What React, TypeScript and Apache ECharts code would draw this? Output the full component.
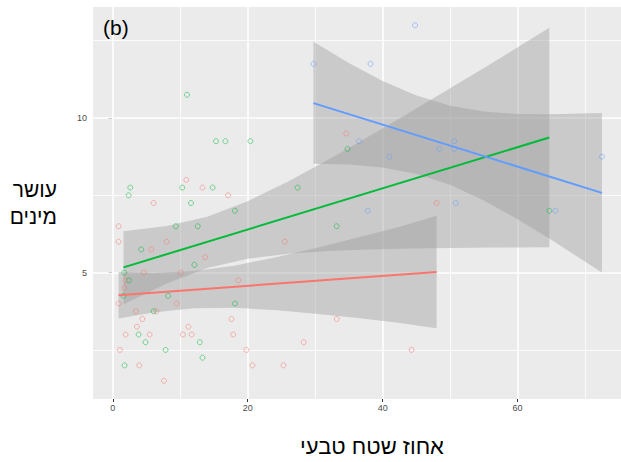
import React, { useEffect, useRef } from "react";
import * as echarts from "echarts";

// Axis breaks
const xTicks = [0, 20, 40, 60];
const yTicks = [5, 10];
const xMinorGrid = [10, 30, 50, 70];
const yMinorGrid = [2.5, 7.5, 12.5];

// Observations: [natural area %, species richness]
const redPoints: [number, number][] = [
  [0.86, 6.5], [0.86, 6.0], [7.98, 6.0], [6.05, 7.25], [10.9, 8.0], [13.3, 7.75],
  [17.1, 7.5], [5.7, 5.75], [13.7, 5.5], [4.6, 5.0], [10.1, 5.0], [1.9, 4.75],
  [18.6, 4.75], [1.7, 4.5], [0.86, 4.0], [9.46, 4.0], [3.43, 3.75], [6.45, 3.75],
  [17.6, 3.5], [4.38, 3.5], [3.58, 3.25], [11.2, 3.25], [1.9, 3.0], [5.46, 3.0],
  [10.4, 3.0], [11.7, 3.0], [17.85, 3.0], [1.06, 2.5], [19.8, 2.5], [3.93, 2.0],
  [20.7, 2.0], [7.58, 1.5], [34.6, 9.5], [48.0, 7.25], [25.5, 6.0], [33.2, 3.5],
  [28.3, 2.75], [44.3, 2.5], [25.3, 2.0],
];
const greenPoints: [number, number][] = [
  [11.0, 10.75], [15.3, 9.25], [16.7, 9.25], [20.4, 9.25], [2.6, 7.75], [10.3, 7.75],
  [14.8, 7.75], [2.35, 7.5], [11.6, 7.25], [18.1, 7.0], [9.36, 6.5], [12.6, 6.5],
  [4.22, 5.75], [12.1, 5.25], [1.7, 5.0], [2.4, 4.75], [1.6, 4.25], [8.2, 4.25],
  [18.1, 4.0], [6.05, 3.75], [3.83, 3.0], [4.86, 2.75], [12.9, 2.75], [7.83, 2.5],
  [1.75, 2.0], [13.3, 2.25], [34.8, 9.0], [27.4, 7.75], [33.2, 6.5], [64.7, 7.0],
];
const bluePoints: [number, number][] = [
  [44.8, 13.0], [29.75, 11.75], [38.2, 11.75], [36.5, 9.25], [41.0, 8.75], [48.4, 9.0],
  [50.6, 9.25], [50.6, 9.0], [72.5, 8.75], [50.85, 7.25], [37.8, 7.0], [65.6, 7.0],
];

// Fitted lines: [x, y]
const redFit: [number, number][] = [[0.86, 4.27], [48.0, 5.02]];
const greenFit: [number, number][] = [[1.6, 5.17], [64.7, 9.37]];
const blueFit: [number, number][] = [[29.75, 10.48], [72.5, 7.58]];

// Confidence bands: [x, lower, upper]
const redBand: [number, number, number][] = [
  [0.86, 3.52, 5.02], [6, 3.71, 4.99], [12, 3.85, 5.05], [18, 3.86, 5.22],
  [24, 3.79, 5.49], [30, 3.67, 5.79], [36, 3.54, 6.12], [42, 3.39, 6.45],
  [48.0, 3.2, 6.84],
];
const greenBand: [number, number, number][] = [
  [1.6, 3.98, 6.34], [8, 4.65, 6.51], [14, 5.15, 6.81], [20, 5.45, 7.31],
  [26, 5.61, 7.95], [32, 5.7, 8.66], [38, 5.75, 9.41], [44, 5.78, 10.18],
  [50, 5.8, 10.96], [56, 5.81, 11.75], [64.7, 5.82, 12.92],
];
const blueBand: [number, number, number][] = [
  [29.75, 8.52, 12.47], [35, 8.5, 11.78], [40, 8.4, 11.2], [45, 8.19, 10.73],
  [50, 7.84, 10.4], [55, 7.33, 10.21], [60, 6.73, 10.13], [65, 6.06, 10.12],
  [72.5, 5.0, 10.16],
];

const RED = "#F8766D";
const GREEN = "#00BA38";
const BLUE = "#619CFF";
const FONT = "'Liberation Sans', Arial, sans-serif";

const scatter = (data: [number, number][], color: string, extra: any = {}) => ({
  type: "scatter",
  data,
  symbol: "circle",
  symbolSize: 5,
  silent: true,
  itemStyle: { color: "rgba(0,0,0,0)", borderColor: color, borderWidth: 1, opacity: 0.5 },
  ...extra,
});

const band = (data: [number, number, number][]) => ({
  type: "custom",
  data,
  silent: true,
  clip: true,
  encode: { x: 0, y: [1, 2] },
  renderItem: (params: any, api: any) => {
    if (params.dataIndexInside !== 0) return null;
    const n = params.dataInsideLength;
    const upper: number[][] = [];
    const lower: number[][] = [];
    for (let i = 0; i < n; i++) {
      const x = api.value(0, i);
      upper.push(api.coord([x, api.value(2, i)]));
      lower.push(api.coord([x, api.value(1, i)]));
    }
    return {
      type: "polygon",
      shape: { points: upper.concat(lower.reverse()) },
      style: { fill: "rgba(153,153,153,0.4)" },
    };
  },
});

const fitLine = (data: [number, number][], color: string) => ({
  type: "line",
  data,
  showSymbol: false,
  silent: true,
  lineStyle: { color, width: 2 },
});

export default function App() {
  const ref = useRef<HTMLDivElement>(null);

  useEffect(() => {
    if (!ref.current) return;
    const chart = echarts.init(ref.current, undefined, { renderer: "svg" });

    const major = { type: "solid", color: "#FFFFFF", width: 1.6 };
    const minor = { type: "solid", color: "#FFFFFF", width: 0.8 };
    const gridLines = [
      ...xMinorGrid.map((v) => ({ xAxis: v, lineStyle: minor })),
      ...yMinorGrid.map((v) => ({ yAxis: v, lineStyle: minor })),
      ...xTicks.map((v) => ({ xAxis: v, lineStyle: major })),
      ...yTicks.map((v) => ({ yAxis: v, lineStyle: major })),
    ];

    chart.setOption({
      animation: false,
      backgroundColor: "#FFFFFF",
      textStyle: { fontFamily: FONT },
      title: {
        text: "(b)",
        left: 98,
        top: 12,
        textStyle: { fontSize: 21, fontWeight: "normal", color: "#000000", fontFamily: FONT },
      },
      grid: {
        left: 93,
        right: 0,
        top: 7,
        bottom: 62,
        show: true,
        backgroundColor: "#EBEBEB",
        borderWidth: 0,
      },
      xAxis: {
        type: "value",
        min: -2.93,
        max: 75.33,
        axisLine: { show: false },
        splitLine: { show: false },
        axisTick: {
          show: true,
          customValues: xTicks,
          length: 3,
          lineStyle: { color: "#333333", width: 1 },
        },
        axisLabel: {
          customValues: xTicks,
          margin: 4,
          color: "#4D4D4D",
          fontSize: 9,
          fontFamily: FONT,
        },
        name: "אחוז שטח טבעי",
        nameLocation: "middle",
        nameGap: 36,
        nameTextStyle: {
          fontSize: 22,
          color: "#000000",
          fontFamily: FONT,
          padding: [0, 0, 0, 30],
        },
      },
      yAxis: {
        type: "value",
        min: 0.913,
        max: 13.59,
        axisLine: { show: false },
        splitLine: { show: false },
        axisTick: {
          show: true,
          customValues: yTicks,
          length: 4,
          lineStyle: { color: "#333333", width: 1 },
        },
        axisLabel: {
          customValues: yTicks,
          margin: 6,
          color: "#4D4D4D",
          fontSize: 9,
          fontFamily: FONT,
        },
        name: "עושר\nמינים",
        nameLocation: "middle",
        nameRotate: 0,
        nameGap: 36,
        nameTextStyle: {
          fontSize: 21,
          lineHeight: 27,
          color: "#000000",
          fontFamily: FONT,
          align: "right",
          verticalAlign: "middle",
        },
      },
      series: [
        scatter(redPoints, RED, {
          markLine: {
            silent: true,
            z: 1,
            symbol: "none",
            label: { show: false },
            animation: false,
            data: gridLines,
          },
        }),
        scatter(greenPoints, GREEN),
        scatter(bluePoints, BLUE),
        band(redBand),
        fitLine(redFit, RED),
        band(greenBand),
        fitLine(greenFit, GREEN),
        band(blueBand),
        fitLine(blueFit, BLUE),
      ],
    });

    return () => chart.dispose();
  }, []);

  return (
    <div
      ref={ref}
      style={{ position: "absolute", left: 0, top: 0, width: 621, height: 462 }}
    />
  );
}
